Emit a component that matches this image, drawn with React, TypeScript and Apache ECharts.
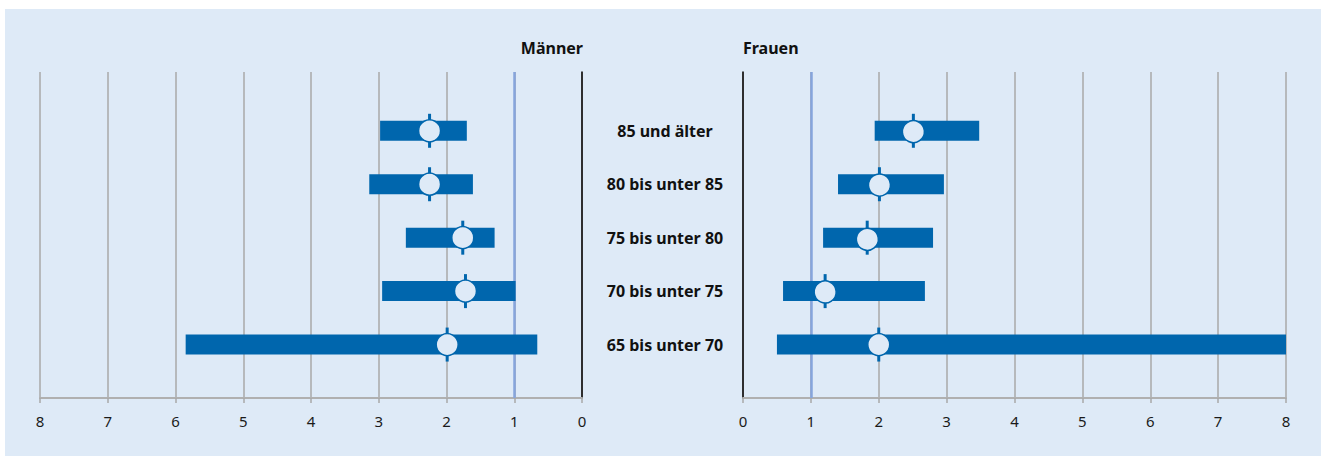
import React, { useEffect, useRef } from "react";
import * as echarts from "echarts";

const categories = ["65 bis unter 70", "70 bis unter 75", "75 bis unter 80", "80 bis unter 85", "85 und älter"];
const menLow = [0.66, 0.98, 1.29, 1.61, 1.70];
const menHigh = [5.85, 2.95, 2.60, 3.14, 2.98];
const menValue = [1.99, 1.72, 1.76, 2.25, 2.25];
const womenLow = [0.50, 0.59, 1.18, 1.40, 1.94];
const womenHigh = [8.0, 2.68, 2.80, 2.96, 3.48];
const womenValue = [2.00, 1.21, 1.83, 2.01, 2.51];
const xTicks = [0, 1, 2, 3, 4, 5, 6, 7, 8];
const referenceValue = 1;

const BG = "#deeaf7";
const BAR = "#0066ad";
const GRID = "#a8a8a8";
const FONT = "'Noto Sans', 'Open Sans', sans-serif";

const renderItem = (params: any, api: any) => {
  const y = api.value(0);
  const lo = api.coord([api.value(1), y]);
  const hi = api.coord([api.value(2), y]);
  const pt = api.coord([api.value(3), y]);
  const x0 = Math.min(lo[0], hi[0]);
  const w = Math.abs(hi[0] - lo[0]);
  return {
    type: "group",
    children: [
      { type: "rect", shape: { x: x0, y: lo[1] - 10, width: w, height: 20 }, style: { fill: BAR } },
      { type: "line", shape: { x1: pt[0], y1: pt[1] - 17, x2: pt[0], y2: pt[1] + 17 }, style: { stroke: BAR, lineWidth: 3 } },
      { type: "circle", shape: { cx: pt[0], cy: pt[1], r: 11 }, style: { fill: BG, stroke: BAR, lineWidth: 1.5 } },
    ],
  };
};

export default function App() {
  const ref = useRef<HTMLDivElement>(null);
  useEffect(() => {
    if (!ref.current) return;
    const chart = echarts.init(ref.current, undefined, { renderer: "svg" });
    const menData = categories.map((_, i) => [i + 1, menLow[i], menHigh[i], menValue[i]]);
    const womenData = categories.map((_, i) => [i + 1, womenLow[i], womenHigh[i], womenValue[i]]);
    const xAxisBase = (gridIndex: number, inverse: boolean) => ({
      type: "value",
      gridIndex,
      inverse,
      min: xTicks[0],
      max: xTicks[xTicks.length - 1],
      interval: 1,
      axisLine: { show: true, onZero: false, lineStyle: { color: "#b0b0b0", width: 2 } },
      axisTick: { show: true, length: 5, lineStyle: { color: GRID, width: 1.5 } },
      axisLabel: { color: "#1a1a1a", fontSize: 15, fontFamily: FONT, margin: 15 },
      splitLine: { show: true, lineStyle: { color: GRID, width: 1.5 } },
    });
    const markLine = {
      silent: true,
      symbol: "none",
      label: { show: false },
      lineStyle: { color: "#86a5dc", width: 2.5, type: "solid" },
      data: [{ xAxis: referenceValue }],
    };
    chart.setOption({
      animation: false,
      backgroundColor: "#ffffff",
      graphic: [
        { type: "rect", z: -10, shape: { x: 5, y: 9, width: 1316, height: 447 }, style: { fill: BG } },
      ],
      title: [
        { text: "Männer", right: 1321 - 583, top: 40, padding: 0, textStyle: { fontSize: 16, fontWeight: "bold", color: "#111", fontFamily: FONT } },
        { text: "Frauen", left: 743, top: 40, padding: 0, textStyle: { fontSize: 16, fontWeight: "bold", color: "#111", fontFamily: FONT } },
      ],
      grid: [
        { left: 40, right: 1321 - 582, top: 72, bottom: 456 - 398 },
        { left: 743, right: 1321 - 1286, top: 72, bottom: 456 - 398 },
      ],
      xAxis: [xAxisBase(0, true), xAxisBase(1, false)],
      yAxis: [
        {
          type: "value", gridIndex: 0, position: "right", min: 0, max: 6.1, interval: 1,
          axisLine: { show: true, lineStyle: { color: "#000", width: 1.5 } },
          axisTick: { show: false }, axisLabel: { show: false }, splitLine: { show: false },
        },
        {
          type: "value", gridIndex: 1, position: "left", min: 0, max: 6.1, interval: 1,
          axisLine: { show: true, lineStyle: { color: "#000", width: 1.5 } },
          axisTick: { show: false }, splitLine: { show: false },
          axisLabel: {
            show: true, align: "center", margin: 78, fontSize: 16, fontWeight: "bold", color: "#111", fontFamily: FONT,
            formatter: (v: number) => (Number.isInteger(v) && categories[v - 1]) || "",
          },
        },
      ],
      series: [
        { type: "custom", name: "Männer", xAxisIndex: 0, yAxisIndex: 0, renderItem, encode: { x: [1, 2, 3], y: 0 }, data: menData, markLine, z: 5 },
        { type: "custom", name: "Frauen", xAxisIndex: 1, yAxisIndex: 1, renderItem, encode: { x: [1, 2, 3], y: 0 }, data: womenData, markLine, z: 5 },
      ],
    });
    return () => chart.dispose();
  }, []);
  return <div ref={ref} style={{ position: "fixed", left: 0, top: 0, width: 1321, height: 456 }} />;
}
